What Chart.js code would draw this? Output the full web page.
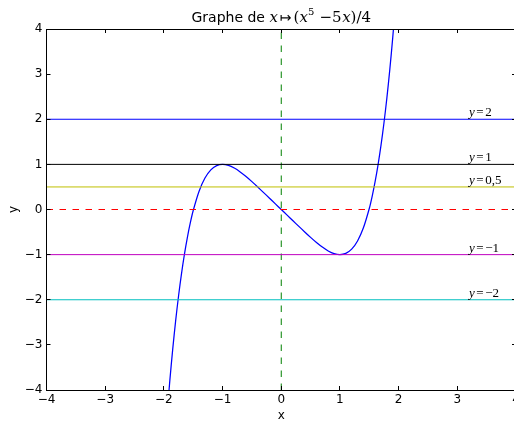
<!DOCTYPE html>
<html>
<head>
<meta charset="utf-8">
<script src="https://cdn.jsdelivr.net/npm/chart.js@4/dist/chart.umd.min.js"></script>
<style>
html,body{margin:0;padding:0;overflow:hidden;background:#fff;}
#wrap{width:540px;height:421px;}
</style>
</head>
<body>
<div id="wrap"><canvas id="c" width="540" height="421"></canvas></div>
<script>
// Curve samples
const curveX = [-2, -1.95, -1.9, -1.85, -1.8, -1.75, -1.7, -1.65, -1.6, -1.55, -1.5, -1.4, -1.3, -1.2, -1.1, -1.0, -0.9, -0.8, -0.7, -0.6, -0.5, -0.4, -0.3, -0.2, -0.1, 0,
  0.1, 0.2, 0.3, 0.4, 0.5, 0.6, 0.7, 0.8, 0.9, 1.0, 1.1, 1.2, 1.3, 1.4, 1.5, 1.55, 1.6, 1.65, 1.7, 1.75, 1.8, 1.85, 1.9, 1.95, 2];
const curveY = [-5.5, -4.61, -3.815, -3.105, -2.474, -1.916, -1.425, -0.995, -0.622, -0.299, -0.023, 0.405, 0.697, 0.878, 0.972, 1.0, 0.977, 0.918, 0.833, 0.731, 0.617, 0.497, 0.374, 0.25, 0.125, 0,
  -0.125, -0.25, -0.374, -0.497, -0.617, -0.731, -0.833, -0.918, -0.977, -1.0, -0.972, -0.878, -0.697, -0.405, 0.023, 0.299, 0.622, 0.995, 1.425, 1.916, 2.474, 3.105, 3.815, 4.61, 5.5];
// Reference levels
const refLevels = [2, 1, 0.5, -1, -2];
const refLabels = ['2', '1', '0,5', '−1', '−2'];
const refColors = ['#0000ff', '#000000', '#bfbf00', '#bf00bf', '#00bfbf'];
const xRange = [-4, 4];
const yRange = [-4, 4];
const tickValues = [-4, -3, -2, -1, 0, 1, 2, 3, 4];

const datasets = [];
refLevels.forEach((lv, i) => {
  datasets.push({data: [{x: xRange[0], y: lv}, {x: xRange[1], y: lv}], borderColor: refColors[i], borderWidth: 1, pointRadius: 0});
});
datasets.push({data: [{x: xRange[0], y: 0}, {x: xRange[1], y: 0}], borderColor: '#ff0000', borderWidth: 1, borderDash: [6.5, 6.5], pointRadius: 0});
datasets.push({data: [{x: 0, y: yRange[0]}, {x: 0, y: yRange[1]}], borderColor: '#008000', borderWidth: 1, borderDash: [6.5, 6.5], pointRadius: 0});
datasets.push({data: curveX.map((x, i) => ({x: x, y: curveY[i]})), borderColor: '#0000ff', borderWidth: 1.25, pointRadius: 0, tension: 0.3});

function drawSegs(ctx, segs, cx, baseY) {
  let total = 0;
  segs.forEach(s => { ctx.font = s.f; s.w = ctx.measureText(s.t).width + (s.gap || 0); total += s.w; });
  let x = cx - total / 2;
  ctx.textBaseline = 'alphabetic';
  ctx.textAlign = 'left';
  segs.forEach(s => { ctx.font = s.f; ctx.fillText(s.t, x + (s.gap || 0) / 2, baseY - (s.dy || 0)); x += s.w; });
}
function drawSegsLeft(ctx, segs, x, baseY) {
  ctx.textBaseline = 'alphabetic';
  ctx.textAlign = 'left';
  segs.forEach(s => { ctx.font = s.f; const g = s.gap || 0; ctx.fillText(s.t, x + g / 2, baseY - (s.dy || 0)); x += ctx.measureText(s.t).width + g; });
}

const deco = {
  id: 'deco',
  afterDraw(chart) {
    const ctx = chart.ctx, a = chart.chartArea, sx = chart.scales.x, sy = chart.scales.y;
    ctx.save();
    ctx.strokeStyle = '#000';
    ctx.lineWidth = 1;
    const L = Math.floor(a.left) + 0.5, T = Math.floor(a.top) + 0.5;
    ctx.strokeRect(L, T, Math.round(a.right - a.left), Math.floor(a.bottom) - Math.floor(a.top));
    ctx.beginPath();
    tickValues.forEach(v => {
      const px = Math.floor(sx.getPixelForValue(v)) + 0.5;
      ctx.moveTo(px, a.bottom); ctx.lineTo(px, a.bottom - 4);
      ctx.moveTo(px, a.top); ctx.lineTo(px, a.top + 4);
      const py = Math.floor(sy.getPixelForValue(v)) + 0.5;
      ctx.moveTo(a.left, py); ctx.lineTo(a.left + 4, py);
      ctx.moveTo(a.right, py); ctx.lineTo(a.right - 4, py);
    });
    ctx.stroke();
    ctx.fillStyle = '#000';
    const serif = '"Liberation Serif", "DejaVu Serif", serif';
    const mserif = '"DejaVu Serif", serif';
    // title
    drawSegs(ctx, [
      {t: 'Graphe de ', f: '14px "DejaVu Sans"'},
      {t: 'x', f: 'italic 15px ' + mserif},
      {t: '↦', f: '14px "DejaVu Sans"', gap: 4},
      {t: '(', f: '15px ' + mserif},
      {t: 'x', f: 'italic 15px ' + mserif},
      {t: '5', f: '10px ' + mserif, dy: 7},
      {t: ' −5', f: '15px ' + mserif, gap: 1},
      {t: 'x', f: 'italic 15px ' + mserif},
      {t: ')/4', f: '15px ' + mserif}
    ], (a.left + a.right) / 2, 22);
    // reference labels
    refLevels.forEach((lv, i) => {
      drawSegsLeft(ctx, [
        {t: 'y', f: 'italic 13px ' + serif},
        {t: '=', f: '13px ' + serif, gap: 3},
        {t: refLabels[i], f: '13px ' + serif}
      ], sx.getPixelForValue(3.2), sy.getPixelForValue(lv) - 3);
    });
    // axis titles
    ctx.font = '12px "DejaVu Sans"';
    ctx.textAlign = 'center';
    ctx.textBaseline = 'middle';
    ctx.fillText('x', (a.left + a.right) / 2, 416);
    ctx.save();
    ctx.translate(14, (a.top + a.bottom) / 2);
    ctx.rotate(-Math.PI / 2);
    ctx.fillText('y', 0, 0);
    ctx.restore();
    ctx.restore();
  }
};

const tickFont = {family: 'DejaVu Sans', size: 12};
new Chart(document.getElementById('c'), {
  type: 'line',
  data: {datasets: datasets},
  options: {
    responsive: false,
    animation: false,
    layout: {padding: {top: 29, right: 24, left: 0, bottom: 0}},
    plugins: {legend: {display: false}, title: {display: false}, tooltip: {enabled: false}},
    scales: {
      x: {
        type: 'linear', min: xRange[0], max: xRange[1],
        ticks: {stepSize: 1, color: '#000', font: tickFont, padding: 3, maxRotation: 0,
          callback: v => String(v).replace('-', '−')},
        grid: {display: false, drawTicks: false},
        border: {display: false},
        afterFit(s) { s.height = 31; }
      },
      y: {
        type: 'linear', min: yRange[0], max: yRange[1],
        ticks: {stepSize: 1, color: '#000', font: tickFont, padding: 4,
          callback: v => String(v).replace('-', '−')},
        grid: {display: false, drawTicks: false},
        border: {display: false},
        afterFit(s) { s.width = 46.5; }
      }
    }
  },
  plugins: [deco]
});
</script>
</body>
</html>
